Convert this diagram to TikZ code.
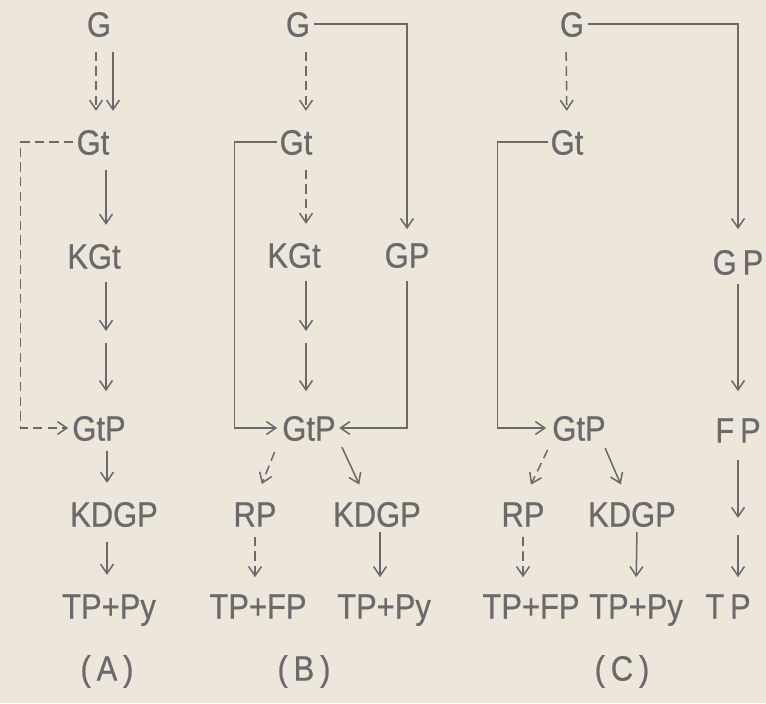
\documentclass[tikz,border=0pt]{standalone}
\usepackage{fontspec}
\setmainfont{Liberation Sans}[FakeStretch=0.88, FakeBold=0.6]
\usetikzlibrary{arrows.meta}
\definecolor{paper}{HTML}{EDE6DA}
\definecolor{ink}{HTML}{6A6A6A}

\begin{document}
\begin{tikzpicture}[
    x=0.03cm, y=-0.03cm,
    font=\fontsize{30}{32}\selectfont,
    mol/.style={text=ink, inner sep=0pt, text height=21.5pt, text depth=0pt},
    arr/.style={-{Straight Barb[length=8pt,width=11pt]}, draw=ink, line width=1.3pt,
                shorten <=0.45cm, shorten >=0.55cm},
    darr/.style={arr, dash pattern=on 8pt off 4.5pt},
  ]
    \fill[paper] (0,0) rectangle (766,703);
    \useasboundingbox (0,0) rectangle (766,703);

    \node[mol] (gA)    at (99,24)   {G};
    \node[mol] (gtA)   at (93,142)  {Gt};
    \node[mol] (kgtA)  at (94,256)  {KGt};
    \node[mol] (gtpA)  at (99,428)  {GtP};
    \node[mol] (kdgpA) at (114,514) {KDGP};
    \node[mol] (tpA)   at (109,606) {TP+Py};
    \node[mol] (labA)  at (107,668) {(\,A\,)};
    \coordinate (kmA) at (106,337);

    \node[mol] (gB)    at (298,24)  {G};
    \node[mol] (gtB)   at (296,142) {Gt};
    \node[mol] (kgtB)  at (294,255) {KGt};
    \node[mol] (gpB)   at (407,255) {GP};
    \node[mol] (gtpB)  at (309,428) {GtP};
    \node[mol] (rpB)   at (255,514) {RP};
    \node[mol] (kdgpB) at (377,514) {KDGP};
    \node[mol] (tpfB)  at (258,606) {TP+FP};
    \node[mol] (tpyB)  at (384,606) {TP+Py};
    \node[mol] (labB)  at (304,668) {(\,B\,)};
    \coordinate (kmB) at (306,337);

    \node[mol] (gC)    at (572,24)  {G};
    \node[mol] (gtC)   at (567,142) {Gt};
    \node[mol] (gpC)   at (738,262) {G\,P};
    \node[mol] (gtpC)  at (579,428) {GtP};
    \node[mol] (fpC)   at (738,430) {F\,P};
    \node[mol] (rpC)   at (523,514) {RP};
    \node[mol] (kdgpC) at (632,514) {KDGP};
    \node[mol] (tpfC)  at (531,606) {TP+FP};
    \node[mol] (tpyC)  at (636,606) {TP+Py};
    \node[mol] (tpC)   at (728,606) {T\,P};
    \node[mol] (labC)  at (622,668) {(\,C\,)};
    \coordinate (kmC) at (738,527);

    \draw[darr] ([xshift=-0.09cm]gA.south) -- ([xshift=0.09cm]gtA.north);
    \draw[arr] ([xshift=0.42cm]gA.south) -- ([xshift=0.6cm]gtA.north);
    \draw[darr, shorten <=0.09cm, shorten >=0.12cm] (gtA.west) -- ++(-56,0) |- (gtpA.west);
    \draw[arr] ([xshift=0.39cm]gtA.south) -- ([xshift=0.36cm]kgtA.north);
    \draw[arr, shorten <=0.39cm, shorten >=0.18cm] (kgtA.south -| kmA) -- (kmA);
    \draw[arr, shorten <=0.18cm, shorten >=0.72cm] (kmA) -- (kmA |- gtpA.north);
    \draw[arr, shorten <=0.3cm] ([xshift=0.24cm]gtpA.south) -- ([xshift=-0.21cm]kdgpA.north);
    \draw[arr] ([xshift=-0.21cm]kdgpA.south) -- ([xshift=-0.06cm]tpA.north);

    \draw[darr] ([xshift=0.24cm]gB.south) -- ([xshift=0.3cm]gtB.north);
    \draw[arr, shorten <=0.12cm, shorten >=0.39cm] (gB.east) -| (gpB.north);
    \draw[arr, shorten <=0.06cm, shorten >=0.15cm] (gtB.west) -- ++(-45,0) |- (gtpB.west);
    \draw[darr] ([xshift=0.3cm]gtB.south) -- ([xshift=0.36cm]kgtB.north);
    \draw[arr, shorten <=0.39cm, shorten >=0.18cm] (kgtB.south -| kmB) -- (kmB);
    \draw[arr, shorten <=0.18cm, shorten >=0.72cm] (kmB) -- (kmB |- gtpB.north);
    \draw[arr, shorten <=0.39cm, shorten >=0.1cm] (gpB.south) |- (gtpB.east);
    \draw[darr, shorten <=0.36cm] ([xshift=-0.9cm]gtpB.south) -- (rpB.north);
    \draw[arr, shorten <=0.21cm] ([xshift=0.9cm]gtpB.south) -- ([xshift=-0.3cm]kdgpB.north);
    \draw[darr, shorten <=0.3cm, shorten >=0.48cm] (rpB.south) -- ([xshift=-0.09cm]tpfB.north);
    \draw[arr, shorten <=0.15cm, shorten >=0.48cm] ([xshift=0.09cm]kdgpB.south) -- ([xshift=-0.12cm]tpyB.north);

    \draw[darr] ([xshift=-0.18cm]gC.south) -- (gtC.north);
    \draw[arr, shorten <=0.12cm, shorten >=0.6cm] (gC.east) -| (gpC.north);
    \draw[arr, shorten <=0.06cm, shorten >=0.18cm] (gtC.west) -- ++(-53,0) |- (gtpC.west);
    \draw[darr, shorten <=0.3cm] ([xshift=-0.81cm]gtpC.south) -- (rpC.north);
    \draw[arr, shorten <=0.24cm] ([xshift=0.69cm]gtpC.south) -- ([xshift=-0.12cm]kdgpC.north);
    \draw[darr, shorten <=0.3cm, shorten >=0.48cm] (rpC.south) -- ([xshift=-0.24cm]tpfC.north);
    \draw[arr, shorten <=0.15cm, shorten >=0.48cm] ([xshift=0.15cm]kdgpC.south) -- (tpyC.north);
    \draw[arr, shorten <=0.27cm, shorten >=0.78cm] (gpC.south) -- (fpC.north);
    \draw[arr, shorten <=0.51cm, shorten >=0.27cm] (fpC.south) -- (kmC);
    \draw[arr, shorten <=0.24cm, shorten >=0.48cm] (kmC) -- (kmC |- tpC.north);
\end{tikzpicture}
\end{document}
